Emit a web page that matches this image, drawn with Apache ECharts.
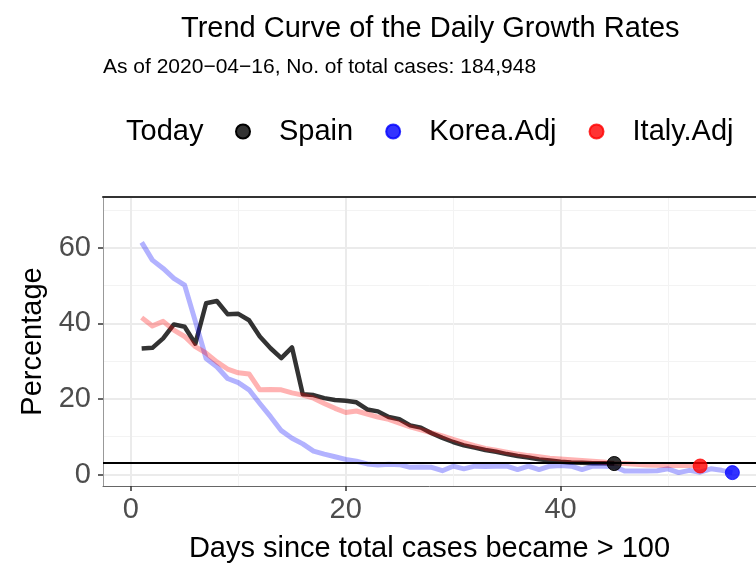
<!DOCTYPE html>
<html><head><meta charset="utf-8">
<script src="https://cdn.jsdelivr.net/npm/echarts@6/dist/echarts.min.js"></script>
<style>html,body{margin:0;padding:0;background:#fff}#c{width:756px;height:571px}</style>
</head><body><div id="c"></div>
<script>
const days = [1,2,3,4,5,6,7,8,9,10,11,12,13,14,15,16,17,18,19,20,21,22,23,24,25,26,27,28,29,30,31,32,33,34,35,36,37,38,39,40,41,42,43,44,45,46,47,48,49,50,51,52,53,54,55,56];
const spain = [33.3,33.5,36.0,39.7,39.1,34.6,45.3,45.9,42.4,42.5,40.8,36.5,33.4,30.8,33.6,21.2,21.0,20.2,19.7,19.5,19.1,17.2,16.7,15.2,14.6,13.0,12.4,10.9,9.7,8.6,7.7,7.1,6.5,6.0,5.4,4.9,4.5,4.0,3.7,3.4,3.2,3.1,3.0,2.95,2.9];
const korea = [61.4,56.7,54.5,51.9,50.1,40.5,30.7,28.5,25.4,24.3,22.4,18.8,15.3,11.6,9.6,8.1,6.2,5.4,4.7,4.0,3.5,2.8,2.5,2.7,2.6,1.9,2.0,1.9,1.0,2.2,1.5,2.2,2.1,2.2,2.2,1.3,2.2,1.3,2.2,2.4,2.2,1.3,2.2,2.2,2.1,0.9,0.9,0.9,1.0,1.5,0.5,1.1,0.6,1.5,1.1,0.5];
const italy = [41.5,39.3,40.5,38.2,36.5,33.8,32.1,29.8,27.9,26.9,26.6,22.4,22.5,22.4,21.6,21.0,20.2,18.8,17.5,16.4,16.8,16.0,15.2,14.6,13.6,12.6,11.8,11.0,10.2,9.3,8.4,7.6,6.9,6.4,5.9,5.4,5.0,4.7,4.3,4.1,3.9,3.7,3.5,3.3,3.0,2.9,2.7,2.5,2.45,2.4,2.4,2.35,2.25];
const xMajorTicks = [0,20,40];
const xMinorTicks = [10,30,50];
const yMajorTicks = [0,20,40,60];
const yMinorTicks = [10,30,50,70];
const todayLevel = 3;
const seriesNames = ['Spain','Korea.Adj','Italy.Adj'];
const titleText = 'Trend Curve of the Daily Growth Rates';
const subtitleText = 'As of 2020\u221204\u221216, No. of total cases: 184,948';
const legendTitle = 'Today';
const xName = 'Days since total cases became > 100';
const yName = 'Percentage';

const FONT = '"Liberation Sans", Arial, Helvetica, sans-serif';
function pairs(vals){ return vals.map((v,i)=>[days[i], v]); }
function last(vals){ const i = vals.length-1; return [[days[i], vals[i]]]; }

const X_MIN = -2.6, X_MAX = 58.2, Y_MIN = -3.04, Y_MAX = 73.4;
const lineColors = ['rgba(0,0,0,0.8)','rgba(0,0,255,0.3)','rgba(255,0,0,0.3)'];
const dotColors = ['rgba(0,0,0,0.8)','rgba(0,0,255,0.8)','rgba(255,0,0,0.8)'];
const dataSets = [spain, korea, italy];

const chart = echarts.init(document.getElementById('c'), null, {renderer:'canvas'});
const series = [];
dataSets.forEach((d, k) => {
  const s = {
    name: seriesNames[k] + ' trend', type:'line', data: pairs(d), showSymbol:false, symbol:'none',
    xAxisIndex:0, yAxisIndex:0, silent:true, z: 3,
    itemStyle:{color: lineColors[k]},
    lineStyle:{color: lineColors[k], width: k===0?4.5:5, join:'round', cap:'butt'}
  };
  if (k === 0) {
    s.markLine = { silent:true, symbol:['none','none'], label:{show:false},
      lineStyle:{color:'#000', width:2, type:'solid'}, data:[{yAxis: todayLevel}] };
  }
  series.push(s);
});
dataSets.forEach((d, k) => {
  series.push({
    name: seriesNames[k], type:'scatter', data: last(d), symbol:'circle', symbolSize: 14,
    xAxisIndex:0, yAxisIndex:0, z: 5,
    itemStyle:{color: dotColors[k], opacity:1, borderColor: k===0?'#000':dotColors[k], borderWidth: 1}
  });
});

const option = {
  animation:false,
  backgroundColor:'#ffffff',
  textStyle:{fontFamily: FONT},
  title:[
    {text: titleText, left: 181, top: 14, padding:0, textStyle:{fontSize:29, fontWeight:'normal', color:'#000', fontFamily: FONT}},
    {text: subtitleText, left: 103, top: 57, padding:0, textStyle:{fontSize:21, fontWeight:'normal', color:'#000', fontFamily: FONT}},
    {text: legendTitle, left: 126, top: 117, padding:0, textStyle:{fontSize:29, fontWeight:'normal', color:'#000', fontFamily: FONT}}
  ],
  legend:{
    data: seriesNames, left: 235, top: 117, padding:0, itemGap: 32, itemWidth: 14, itemHeight: 14, icon:'circle',
    formatter: n => '{p|' + n + '}',
    textStyle:{fontSize:29, color:'#000', fontFamily: FONT, rich:{p:{fontSize:29, color:'#000', fontFamily: FONT, padding:[0,0,0,24]}}}
  },
  grid:{left:103, right:0, top:197, bottom:85, containLabel:false},
  xAxis:[
    {type:'value', min:X_MIN, max:X_MAX, position:'bottom',
     axisLine:{show:true, onZero:false, lineStyle:{color:'#666', width:1}},
     axisTick:{show:true, customValues: xMajorTicks, length:5, lineStyle:{color:'#333', width:1.5}},
     axisLabel:{customValues: xMajorTicks, color:'#4d4d4d', fontSize:29, margin:9, fontFamily: FONT},
     splitLine:{show:true, lineStyle:{color:'#ebebeb', width:2}},
     name: xName, nameLocation:'middle', nameGap:48,
     nameTextStyle:{fontSize:29, color:'#000', fontFamily: FONT}},
    {type:'value', min:X_MIN, max:X_MAX, position:'top',
     axisLine:{show:true, onZero:false, lineStyle:{color:'#333', width:2}},
     axisTick:{show:false, customValues: xMinorTicks},
     axisLabel:{show:false},
     splitLine:{show:true, lineStyle:{color:'#f3f3f3', width:1}}}
  ],
  yAxis:[
    {type:'value', min:Y_MIN, max:Y_MAX, position:'left',
     axisLine:{show:true, onZero:false, lineStyle:{color:'#999', width:1}},
     axisTick:{show:true, customValues: yMajorTicks, length:5, lineStyle:{color:'#333', width:1.5}},
     axisLabel:{customValues: yMajorTicks, color:'#4d4d4d', fontSize:29, margin:12, fontFamily: FONT},
     splitLine:{show:true, lineStyle:{color:'#ebebeb', width:2}},
     name: yName, nameLocation:'middle', nameGap:54, nameRotate:90,
     nameTextStyle:{fontSize:29, color:'#000', fontFamily: FONT}},
    {type:'value', min:Y_MIN, max:Y_MAX, position:'left',
     axisLine:{show:false}, axisTick:{show:false, customValues: yMinorTicks},
     axisLabel:{show:false},
     splitLine:{show:true, lineStyle:{color:'#f3f3f3', width:1}}}
  ],
  series: series
};
chart.setOption(option);
</script>
</body></html>
